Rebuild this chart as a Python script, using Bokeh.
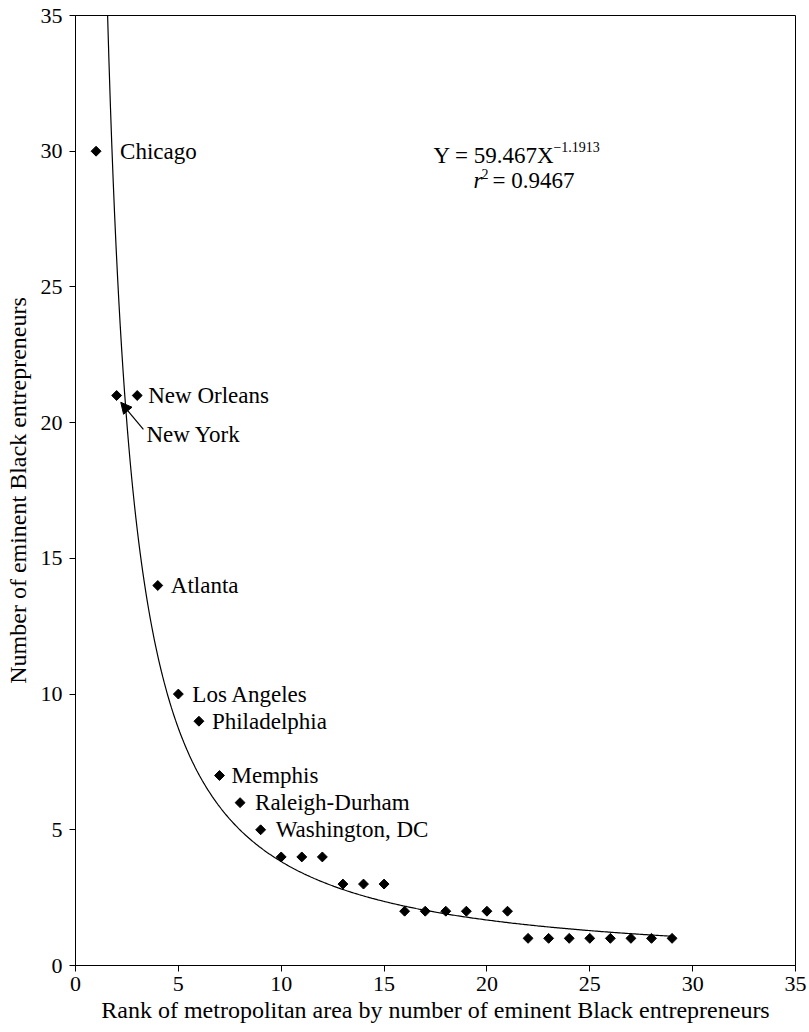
import numpy as np
from bokeh.plotting import figure
from bokeh.models import Range1d, Label, Arrow, NormalHead, ColumnDataSource, FixedTicker
from bokeh.core.properties import value
from bokeh.embed import file_html
from bokeh.resources import INLINE

# ---- data ----
rank = list(range(1, 30))
count = [30, 21, 21, 14, 10, 9, 7, 6, 5, 4, 4, 4, 3, 3, 3,
         2, 2, 2, 2, 2, 2, 1, 1, 1, 1, 1, 1, 1, 1]
label_names = ["Chicago", "New Orleans", "Atlanta", "Los Angeles", "Philadelphia",
               "Memphis", "Raleigh-Durham", "Washington, DC"]
label_rank = [1, 3, 4, 5, 6, 7, 8, 9]
label_count = [30, 21, 14, 10, 9, 7, 6, 5]
label_dx = [24, 11, 13, 14, 13, 12, 15, 15]  # pixel offsets

ny_label = "New York"
ny_text_pos = (3.45, 19.55)
ny_arrow_tail = (3.3, 19.75)
ny_arrow_head = (2.2, 20.75)

fit_a = 59.467
fit_b = -1.1913
r_sq = 0.9467
x_ticks = [0, 5, 10, 15, 20, 25, 30, 35]
y_ticks = [0, 5, 10, 15, 20, 25, 30, 35]

FONT = "Liberation Serif"
FS = "23px"
AX_FS = "24px"
TICK_FS = "22px"

p = figure(width=809, height=1032, output_backend="svg", toolbar_location=None,
           x_range=Range1d(0, 35), y_range=Range1d(0, 35),
           min_border_left=75, min_border_right=14, min_border_top=15, min_border_bottom=67)
p.grid.visible = False
p.outline_line_color = "black"
p.outline_line_width = 1
p.background_fill_color = "white"
p.border_fill_color = "white"

for ax in (p.xaxis[0], p.yaxis[0]):
    ax.axis_line_color = "black"
    ax.major_tick_line_color = "black"
    ax.major_tick_out = 6
    ax.major_tick_in = 0
    ax.minor_tick_line_color = None
    ax.major_label_text_font = FONT
    ax.major_label_text_font_size = TICK_FS
    ax.major_label_text_color = "black"
    ax.axis_label_text_font = FONT
    ax.axis_label_text_font_size = AX_FS
    ax.axis_label_text_font_style = "normal"
    ax.axis_label_text_color = "black"

p.xaxis.ticker = FixedTicker(ticks=x_ticks)
p.yaxis.ticker = FixedTicker(ticks=y_ticks)
p.xaxis.major_label_standoff = 5
p.yaxis.major_label_standoff = 7
p.xaxis.axis_label = "Rank of metropolitan area by number of eminent Black entrepreneurs"
p.yaxis.axis_label = "Number of eminent Black entrepreneurs"
p.xaxis.axis_label_standoff = 3
p.yaxis.axis_label_standoff = 7

# fit curve from the stated equation
x_start = (35.0 / fit_a) ** (1.0 / fit_b)
fx = np.linspace(x_start, 29, 400)
fy = fit_a * fx ** fit_b
p.line(fx, fy, line_color="black", line_width=1.2)

# points
p.scatter(rank, count, marker="square", angle=np.pi / 4, size=7,
          fill_color="black", line_color="black")

# labels
src = ColumnDataSource(dict(x=label_rank, y=label_count, t=label_names, dx=label_dx))
p.text(x="x", y="y", text="t", x_offset="dx", source=src,
       text_font=value(FONT), text_font_size=FS, text_baseline="middle",
       text_align="left", text_color="black")

p.add_layout(Label(x=ny_text_pos[0], y=ny_text_pos[1], text=ny_label,
                   text_font=FONT, text_font_size=FS, text_baseline="middle",
                   text_align="left", text_color="black"))
p.add_layout(Arrow(x_start=ny_arrow_tail[0], y_start=ny_arrow_tail[1],
                   x_end=ny_arrow_head[0], y_end=ny_arrow_head[1],
                   line_color="black", line_width=1.2,
                   end=NormalHead(size=11, fill_color="black", line_color="black")))

# equation
eq_x, eq_y1, eq_y2 = 17.4, 29.84, 28.92
p.add_layout(Label(x=eq_x, y=eq_y1, text="Y = %.3fX" % fit_a, text_font=FONT,
                   text_font_size=FS, text_baseline="alphabetic", text_color="black"))
p.add_layout(Label(x=eq_x, y=eq_y1, x_offset=120, y_offset=9, text="\u2212%.4f" % -fit_b,
                   text_font=FONT, text_font_size="14px", text_baseline="alphabetic",
                   text_color="black"))
p.add_layout(Label(x=eq_x, y=eq_y2, x_offset=40, text="r", text_font=FONT,
                   text_font_size=FS, text_font_style="italic", text_baseline="alphabetic",
                   text_color="black"))
p.add_layout(Label(x=eq_x, y=eq_y2, x_offset=48, y_offset=7, text="2", text_font=FONT,
                   text_font_size="14px", text_baseline="alphabetic", text_color="black"))
p.add_layout(Label(x=eq_x, y=eq_y2, x_offset=59, text="= %.4f" % r_sq, text_font=FONT,
                   text_font_size=FS, text_baseline="alphabetic", text_color="black"))

open("out.html", "w").write(file_html(p, INLINE))
